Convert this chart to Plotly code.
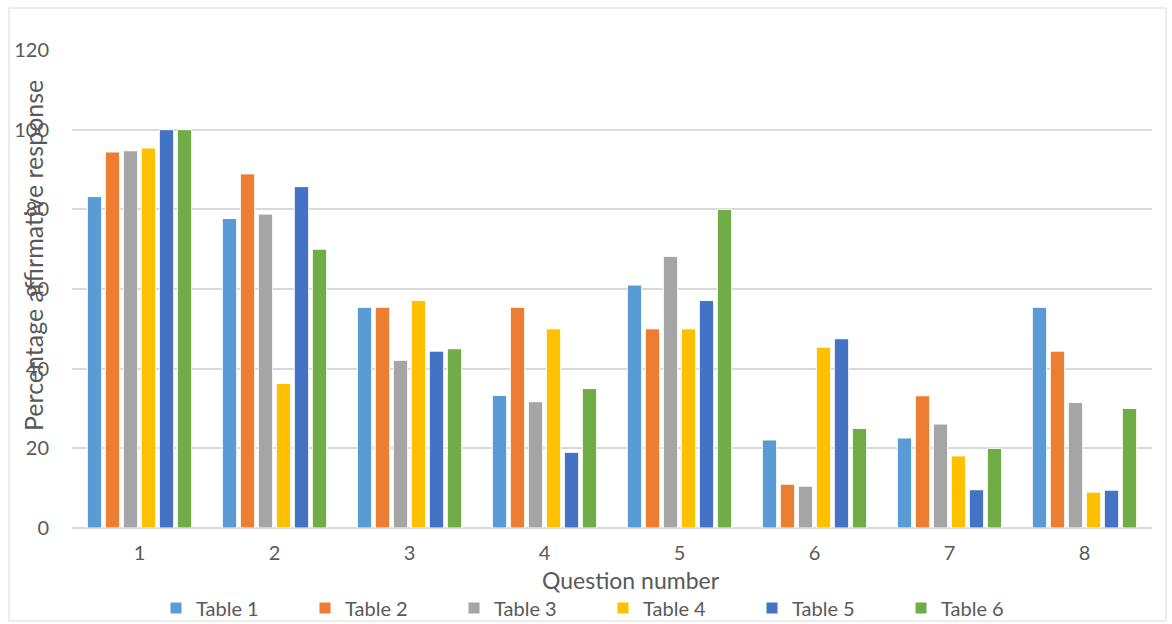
import plotly.graph_objects as go

questions = ["1", "2", "3", "4", "5", "6", "7", "8"]
series_names = ["Table 1", "Table 2", "Table 3", "Table 4", "Table 5", "Table 6"]
table1 = [83.2, 77.7, 55.4, 33.3, 61.0, 22.1, 22.6, 55.4]
table2 = [94.4, 88.9, 55.4, 55.4, 50.0, 11.0, 33.2, 44.4]
table3 = [94.7, 78.8, 42.1, 31.7, 68.2, 10.5, 26.1, 31.5]
table4 = [95.4, 36.3, 57.1, 50.0, 50.0, 45.4, 18.1, 9.0]
table5 = [100.0, 85.7, 44.4, 19.0, 57.1, 47.5, 9.6, 9.5]
table6 = [100.0, 70.0, 45.0, 35.0, 80.0, 25.0, 20.0, 30.0]
series_values = [table1, table2, table3, table4, table5, table6]
colors = ["#5B9BD5", "#ED7D31", "#A5A5A5", "#FFC000", "#4472C4", "#70AD47"]
y_ticks = [0, 20, 40, 60, 80, 100, 120]

FONT = "Lato"
TXT = "#595959"

fig = go.Figure()
for name, vals, col in zip(series_names, series_values, colors):
    fig.add_trace(go.Bar(
        x=questions, y=vals, name=name,
        marker=dict(color=col, line=dict(color="white", width=1)),
    ))

W, H = 1172, 624
ml, mr, mt, mb = 72, 20, 50, 96
pw, ph = W - ml - mr, H - mt - mb

fig.update_layout(
    width=W, height=H,
    margin=dict(l=ml, r=mr, t=mt, b=mb, autoexpand=False),
    paper_bgcolor="white", plot_bgcolor="white",
    barmode="group", bargap=0.2, bargroupgap=0.2,
    font=dict(family=FONT, color=TXT, size=20),
    showlegend=True,
    legend=dict(
        orientation="h", xref="container", yref="container",
        x=603 / W, xanchor="center", y=1 - 608 / H, yanchor="middle",
        font=dict(size=20, color=TXT, family=FONT),
        entrywidth=104, entrywidthmode="pixels",
        itemwidth=30, traceorder="normal", bgcolor="rgba(0,0,0,0)",
    ),
    xaxis=dict(
        type="category", showgrid=False, showline=False, zeroline=False,
        tickfont=dict(size=20, color=TXT), ticklabelstandoff=11,
    ),
    yaxis=dict(
        range=[0, 120], tickvals=y_ticks, showgrid=True, gridcolor="#D9D9D9", gridwidth=1.5,
        zeroline=True, zerolinecolor="#D9D9D9", zerolinewidth=1.5, showline=False,
        tickfont=dict(size=20, color=TXT), ticklabelstandoff=22,
    ),
    annotations=[
        dict(text="Question number", xref="paper", yref="paper",
             x=(631 - ml) / pw, y=(H - mb - 580) / ph, xanchor="center", yanchor="middle",
             showarrow=False, font=dict(size=23, color=TXT, family=FONT)),
        dict(text="Percentage affirmative response", textangle=-90, xref="paper", yref="paper",
             x=(33 - ml) / pw, y=(H - mb - 256) / ph, xanchor="center", yanchor="middle",
             showarrow=False, font=dict(size=25, color=TXT, family=FONT)),
    ],
    shapes=[
        dict(type="rect", xref="paper", yref="paper",
             x0=(9 - ml) / pw, x1=(1166 - ml) / pw,
             y0=(H - mb - 621) / ph, y1=(H - mb - 8) / ph,
             line=dict(color="#D9D9D9", width=1), fillcolor="rgba(0,0,0,0)", layer="below"),
    ],
)

fig.write_html("out.html")
